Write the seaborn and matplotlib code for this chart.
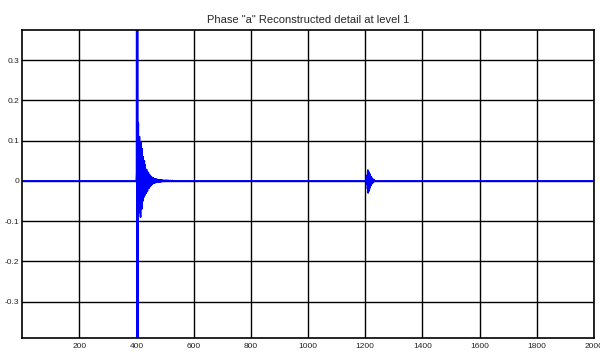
import numpy as np
import pandas as pd
import matplotlib
matplotlib.use("Agg")
import matplotlib.pyplot as plt
import seaborn as sns

# signal length (samples) and the two transient bursts
n_samples = 2000
burst1_start = 398
burst1 = [0.0, 0.02, 1.5, -1.5, 0.9, -0.6, 0.05, 0.144, -0.08, 0.06,
          -0.05, 0.11, -0.07, 0.05, -0.06, -0.09, 0.097, -0.04, 0.03, -0.07,
          0.08, -0.05, 0.04, -0.05, 0.06, -0.04, 0.03, -0.04, 0.05, -0.03,
          0.04, -0.035, 0.03, -0.03, 0.025, -0.03, 0.028, -0.02, 0.02, -0.025,
          0.022, -0.018, 0.02, -0.015, 0.015, -0.018, 0.016, -0.012, 0.012, -0.014,
          0.012, -0.01, 0.01, -0.01, 0.009, -0.008, 0.008, -0.007, 0.008, -0.006,
          0.006, -0.006, 0.005, -0.005, 0.005, -0.004, 0.005, -0.004, 0.004, -0.004,
          0.004, -0.003, 0.004, -0.003, 0.003, -0.003, 0.003, -0.003, 0.003, -0.002,
          0.003, -0.002, 0.002, -0.002, 0.002, -0.002, 0.002, -0.002, 0.002, -0.001,
          0.002, -0.001, 0.001, -0.001, 0.001, -0.001, 0.001, -0.001, 0.001, -0.001,
          0.001, -0.001, 0.001, -0.001, 0.001, 0.0, 0.001, -0.001, 0.001, 0.0,
          0.001, 0.0, 0.001, 0.0, 0.0, 0.001, 0.0, -0.001, 0.0, 0.0,
          0.001, 0.0, 0.0, -0.001, 0.0, 0.0, 0.001, 0.0, 0.0, 0.0]
burst2_start = 1203
burst2 = [0.0, 0.005, -0.008, 0.015, -0.02, 0.027, -0.03, 0.024, -0.026, 0.02,
          -0.022, 0.018, -0.017, 0.014, -0.013, 0.011, -0.01, 0.009, -0.008, 0.007,
          -0.006, 0.005, -0.005, 0.004, -0.003, 0.003, -0.002, 0.002, -0.001, 0.001,
          -0.001, 0.0]

xticks = [200, 400, 600, 800, 1000, 1200, 1400, 1600, 1800, 2000]
yticks = [-0.3, -0.2, -0.1, 0, 0.1, 0.2, 0.3]
title = 'Phase "a" Reconstructed detail at level 1'

values = np.zeros(n_samples)
values[burst1_start:burst1_start + len(burst1)] = burst1
values[burst2_start:burst2_start + len(burst2)] = burst2
df = pd.DataFrame({"sample": np.arange(1, n_samples + 1), "value": values})

sns.set_style("whitegrid")
plt.rcParams["font.family"] = ["Liberation Sans", "DejaVu Sans"]

fig = plt.figure(figsize=(6, 3.53), dpi=100)
ax = fig.add_axes([0.037, 0.043, 0.953, 0.872])

sns.lineplot(data=df, x="sample", y="value", color="#0000ff", linewidth=1.2, ax=ax)

ax.set_xlim(0, 2000)
ax.set_ylim(-0.39, 0.375)
ax.set_xticks(xticks)
ax.set_yticks(yticks)
ax.set_xticklabels([str(t) for t in xticks], fontsize=6)
ax.set_yticklabels(["%g" % t for t in yticks], fontsize=6)
ax.tick_params(axis="x", length=0, pad=4, colors="#222222")
ax.tick_params(axis="y", length=0, pad=2, colors="#222222")
ax.grid(True, color="black", linewidth=1.0)
ax.set_xlabel("")
ax.set_ylabel("")
ax.set_title(title, fontsize=8, pad=5)
for s in ax.spines.values():
    s.set_color("black")
    s.set_linewidth(1.2)

fig.savefig("out.png", dpi=100)
